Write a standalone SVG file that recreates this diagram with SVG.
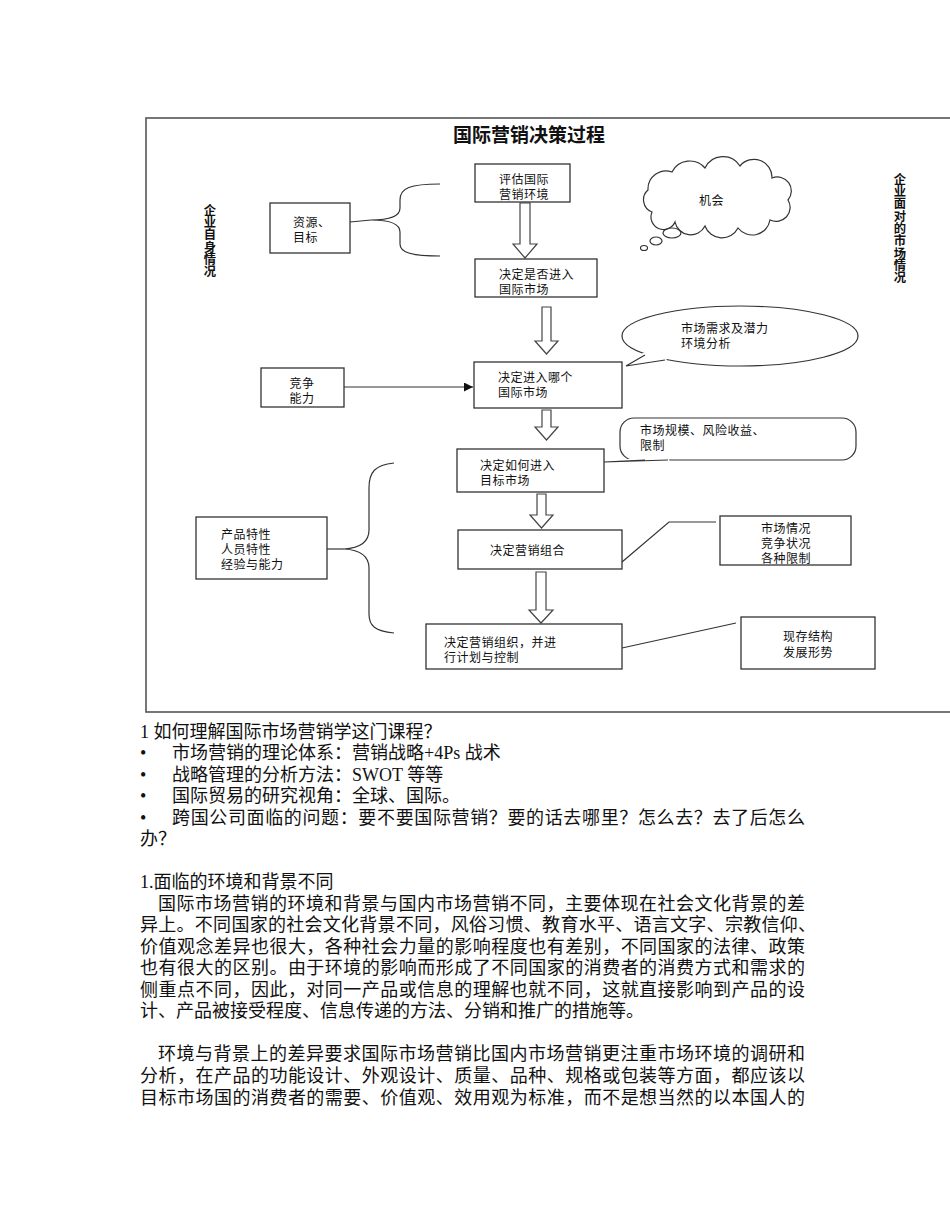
<svg xmlns="http://www.w3.org/2000/svg" width="950" height="1230" viewBox="0 0 950 1230">
<defs>
<style>
.bx{fill:#fff;stroke:#333;stroke-width:1.3}
.ln{fill:none;stroke:#333;stroke-width:1.2}
.t{font-family:"Noto Sans CJK SC","Noto Sans",sans-serif;font-size:12px;letter-spacing:0.5px;fill:#111}
.v{font-family:"Noto Sans CJK SC","Noto Sans",sans-serif;font-size:12.3px;font-weight:bold;fill:#111;writing-mode:vertical-rl}
.p{font-family:"Liberation Serif","Noto Sans CJK SC",serif;font-size:18px;fill:#111}
.ha{fill:#fff;stroke:#444;stroke-width:1.2}
</style>
<marker id="ah" viewBox="0 0 10 10" refX="10" refY="5" markerWidth="9" markerHeight="9" markerUnits="userSpaceOnUse" orient="auto"><path d="M0,0 L10,5 L0,10 Z" fill="#111"/></marker>
</defs>
<rect width="950" height="1230" fill="#fff"/>
<rect x="146" y="118" width="812" height="594" fill="none" stroke="#555" stroke-width="1.6"/>
<text x="529" y="142" text-anchor="middle" style="font-family:'Noto Sans CJK SC',sans-serif;font-size:19px;font-weight:bold;fill:#111">国际营销决策过程</text>

<g id="side-left"><text class="v" x="210" y="204">企业自身情况</text></g>
<g id="side-right"><text class="v" x="900" y="173">企业面对的市场情况</text></g>

<g id="connectors">
<polygon class="ha" points="520,203 530,203 530,244 537,244 525,258 513,244 520,244"/>
<polygon class="ha" points="542,307 551,307 551,341 558,341 546.5,354 535,341 542,341"/>
<polygon class="ha" points="542,410 551,410 551,427 558,427 546.5,440 535,427 542,427"/>
<polygon class="ha" points="537,494 546,494 546,515 553,515 541.5,528 530,515 537,515"/>
<polygon class="ha" points="536,572 546,572 546,610 553,610 541,623 529,610 536,610"/>
<path class="ln" d="M440,184 C410,184 400,188 400,200 L400,208 C400,216 390,220 371,220 C390,220 400,224 400,232 L400,244 C400,252 410,256 440,256"/>
<path class="ln" d="M350,222 L371,220"/>
<path class="ln" d="M394,463 C375,465 369,472 369,488 L369,530 C369,542 360,548 344,549 C360,550 369,556 369,568 L369,614 C369,626 375,631 394,633"/>
<path class="ln" d="M327,549 L344,549"/>
<path class="ln" d="M344,387 L473,387" marker-end="url(#ah)"/>
<path class="ln" d="M622,562 L669,522 L716,522"/>
<path class="ln" d="M622,648 L736,623"/>
</g>

<g id="n-eval"><rect class="bx" x="475" y="164" width="95" height="38"/><text class="t"><tspan x="499" y="184">评估国际</tspan><tspan x="499" y="199">营销环境</tspan></text></g>
<g id="n-enter"><rect class="bx" x="475" y="259" width="122" height="38"/><text class="t"><tspan x="499" y="279">决定是否进入</tspan><tspan x="499" y="294">国际市场</tspan></text></g>
<g id="n-which"><rect class="bx" x="474" y="362" width="148" height="46"/><text class="t"><tspan x="498" y="382">决定进入哪个</tspan><tspan x="498" y="397">国际市场</tspan></text></g>
<g id="n-how"><rect class="bx" x="457" y="449" width="147" height="43"/><text class="t"><tspan x="480" y="470">决定如何进入</tspan><tspan x="480" y="485">目标市场</tspan></text></g>
<g id="n-mix"><rect class="bx" x="458" y="530" width="164" height="39"/><text class="t" x="490" y="555">决定营销组合</text></g>
<g id="n-org"><rect class="bx" x="426" y="624" width="196" height="45"/><text class="t"><tspan x="444" y="647">决定营销组织，并进</tspan><tspan x="444" y="662">行计划与控制</tspan></text></g>

<g id="n-resource"><rect class="bx" x="270" y="203" width="80" height="50"/><text class="t"><tspan x="293" y="227">资源、</tspan><tspan x="293" y="242">目标</tspan></text></g>
<g id="n-compete"><rect class="bx" x="261" y="368" width="83" height="39"/><text class="t" text-anchor="middle"><tspan x="302" y="388">竞争</tspan><tspan x="302" y="403">能力</tspan></text></g>
<g id="n-product"><rect class="bx" x="196" y="517" width="131" height="62"/><text class="t"><tspan x="221" y="539">产品特性</tspan><tspan x="221" y="554">人员特性</tspan><tspan x="221" y="569">经验与能力</tspan></text></g>
<g id="n-market"><rect class="bx" x="720" y="516" width="131" height="49"/><text class="t" text-anchor="middle"><tspan x="786" y="533">市场情况</tspan><tspan x="786" y="548">竞争状况</tspan><tspan x="786" y="563">各种限制</tspan></text></g>
<g id="n-struct"><rect class="bx" x="741" y="617" width="134" height="52"/><text class="t" text-anchor="middle"><tspan x="808" y="641">现存结构</tspan><tspan x="808" y="657">发展形势</tspan></text></g>

<g id="n-chance">
<path class="ln" fill="#fff" d="M652,212 A13,13 0 0 1 648,190 A18,18 0 0 1 672,172 A20,20 0 0 1 705,168 A20,20 0 0 1 740,166 A18,18 0 0 1 772,178 A14,14 0 0 1 788,200 A14,14 0 0 1 770,220 A18,18 0 0 1 738,228 A18,18 0 0 1 705,226 A16,16 0 0 1 675,222 A12,12 0 0 1 652,212 Z"/>
<ellipse class="ln" cx="672" cy="233" rx="9" ry="5"/>
<ellipse class="ln" cx="656" cy="241" rx="6" ry="4"/>
<ellipse class="ln" cx="644" cy="248" rx="3.5" ry="2.5"/>
<text class="t" x="699" y="205">机会</text>
</g>
<g id="n-demand">
<ellipse class="ln" cx="740" cy="336" rx="118" ry="30"/>
<polygon points="643,353 626,366 667,360 660,352" fill="#fff"/>
<path class="ln" d="M645,355 L626,366 L665,360"/>
<text class="t"><tspan x="681" y="333">市场需求及潜力</tspan><tspan x="681" y="348">环境分析</tspan></text>
</g>
<g id="n-scale">
<rect class="ln" x="620" y="418" width="236" height="42" rx="14"/>
<polygon points="643,457 604,462 670,462 668,457" fill="#fff"/>
<path class="ln" d="M645,460 L604,462 L668,460"/>
<text class="t"><tspan x="640" y="435">市场规模、风险收益、</tspan><tspan x="640" y="450">限制</tspan></text>
</g>

<g id="body">
<text class="p" x="140" y="738">1 如何理解国际市场营销学这门课程？</text>
<text class="p" x="140" y="759">•</text><text class="p" x="172" y="759">市场营销的理论体系：营销战略+4Ps 战术</text>
<text class="p" x="140" y="781">•</text><text class="p" x="172" y="781">战略管理的分析方法：SWOT 等等</text>
<text class="p" x="140" y="802">•</text><text class="p" x="172" y="802">国际贸易的研究视角：全球、国际。</text>
<text class="p" x="140" y="824">•</text><text class="p" x="172" y="824" textLength="633" lengthAdjust="spacing">跨国公司面临的问题：要不要国际营销？要的话去哪里？怎么去？去了后怎么</text>
<text class="p" x="140" y="845">办？</text>
<text class="p" x="140" y="888">1.面临的环境和背景不同</text>
<text class="p" x="158" y="910" textLength="647" lengthAdjust="spacing">国际市场营销的环境和背景与国内市场营销不同，主要体现在社会文化背景的差</text>
<text class="p" x="140" y="931" textLength="676" lengthAdjust="spacing">异上。不同国家的社会文化背景不同，风俗习惯、教育水平、语言文字、宗教信仰、</text>
<text class="p" x="140" y="953" textLength="665" lengthAdjust="spacing">价值观念差异也很大，各种社会力量的影响程度也有差别，不同国家的法律、政策</text>
<text class="p" x="140" y="974" textLength="665" lengthAdjust="spacing">也有很大的区别。由于环境的影响而形成了不同国家的消费者的消费方式和需求的</text>
<text class="p" x="140" y="996" textLength="665" lengthAdjust="spacing">侧重点不同，因此，对同一产品或信息的理解也就不同，这就直接影响到产品的设</text>
<text class="p" x="140" y="1017">计、产品被接受程度、信息传递的方法、分销和推广的措施等。</text>
<text class="p" x="158" y="1060" textLength="647" lengthAdjust="spacing">环境与背景上的差异要求国际市场营销比国内市场营销更注重市场环境的调研和</text>
<text class="p" x="140" y="1082" textLength="665" lengthAdjust="spacing">分析，在产品的功能设计、外观设计、质量、品种、规格或包装等方面，都应该以</text>
<text class="p" x="140" y="1104" textLength="665" lengthAdjust="spacing">目标市场国的消费者的需要、价值观、效用观为标准，而不是想当然的以本国人的</text>
</g>
</svg>
